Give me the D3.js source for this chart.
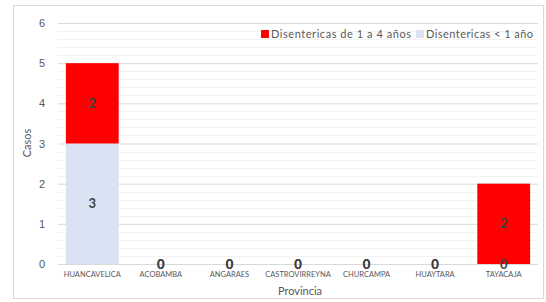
<!DOCTYPE html>
<html><head><meta charset="utf-8">
<script src="https://cdn.jsdelivr.net/npm/d3@7"></script>
<style>body{margin:0;background:#fff;}svg{display:block;font-family:Lato,"Open Sans",sans-serif;}</style>
</head><body><svg id="c" width="546" height="302"></svg>
<script>
const categories = ["HUANCAVELICA","ACOBAMBA","ANGARAES","CASTROVIRREYNA","CHURCAMPA","HUAYTARA","TAYACAJA"];
const menor1 = [3,0,0,0,0,0,0];
const de1a4 = [2,0,0,0,0,0,2];
const seriesNames = ["Disentericas de 1 a 4 años","Disentericas < 1 año"];
const yTicks = [0,1,2,3,4,5,6];

const svg = d3.select("#c");
svg.append("rect").attr("x",13.5).attr("y",5.5).attr("width",530).attr("height",293)
  .attr("fill","#fff").attr("stroke","#d9d9d9");

const x = d3.scaleBand().domain(categories).range([58,538]).paddingInner(0.23).paddingOuter(0.115);
const y = d3.scaleLinear().domain([0,6]).range([264,23]);

// minor gridlines
const minor = d3.range(0,6.001,0.2).filter(v=>Math.abs(v-Math.round(v))>1e-6);
svg.append("g").selectAll("line").data(minor).join("line")
  .attr("x1",58).attr("x2",538).attr("y1",d=>Math.round(y(d))+0.5).attr("y2",d=>Math.round(y(d))+0.5)
  .attr("stroke","#f2f2f2");
const yAxis = svg.append("g").attr("transform","translate(58,0)")
  .call(d3.axisLeft(y).tickValues(yTicks).tickSize(-480).tickFormat(d3.format("d")));
yAxis.select(".domain").remove();
yAxis.selectAll(".tick line").attr("stroke","#d9d9d9");
yAxis.selectAll(".tick text").attr("x",-13).attr("fill","#595959").attr("font-size","11px");

// stacked bars
const rows = categories.map((c,i)=>({cat:c, m:menor1[i], d:de1a4[i]}));
const stack = d3.stack().keys(["m","d"])(rows);
const colors = {m:"#dae3f3", d:"#ff0000"};
stack.forEach(s=>{
  svg.append("g").selectAll("rect").data(s).join("rect")
    .attr("x",d=>x(d.data.cat)).attr("width",x.bandwidth())
    .attr("y",d=>y(d[1])).attr("height",d=>y(d[0])-y(d[1]))
    .attr("fill",colors[s.key]);
});
// labels
stack.forEach(s=>{
  svg.append("g").selectAll("text").data(s).join("text")
    .attr("x",d=>x(d.data.cat)+x.bandwidth()/2)
    .attr("y",d=>y((d[0]+d[1])/2)+4.5)
    .attr("text-anchor","middle").attr("font-size","13px").attr("font-weight","bold")
    .attr("fill","#404040").text(d=>d[1]-d[0]);
});

// x axis labels
svg.append("g").selectAll("text").data(categories).join("text")
  .attr("x",d=>x(d)+x.bandwidth()/2).attr("y",277)
  .attr("text-anchor","middle").attr("font-size","7.5px").attr("fill","#595959").text(d=>d);

// axis titles
svg.append("text").attr("x",300).attr("y",295).attr("text-anchor","middle")
  .attr("font-size","11px").attr("fill","#595959").text("Provincia");
svg.append("text").attr("transform","translate(31,143) rotate(-90)").attr("text-anchor","middle")
  .attr("font-size","11px").attr("fill","#595959").text("Casos");

// legend
const leg = [{n:seriesNames[0],c:colors.d,x:261,tx:271,w:140},{n:seriesNames[1],c:colors.m,x:416,tx:426,w:107}];
leg.forEach(l=>{
  svg.append("rect").attr("x",l.x).attr("y",30).attr("width",8).attr("height",8).attr("fill",l.c);
  svg.append("text").attr("x",l.tx).attr("y",38).attr("font-size","11px").attr("fill","#595959")
    .attr("textLength",l.w).attr("lengthAdjust","spacing").text(l.n);
});
</script></body></html>
